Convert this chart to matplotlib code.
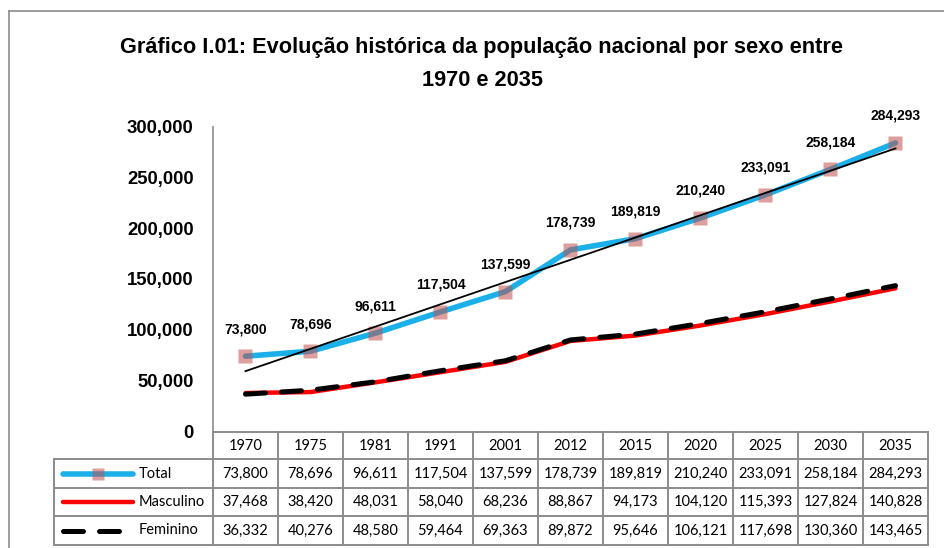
import numpy as np
import matplotlib
matplotlib.use("Agg")
import matplotlib.pyplot as plt
from matplotlib.lines import Line2D

# Dados (população nacional por sexo)
anos = ['1970', '1975', '1981', '1991', '2001', '2012', '2015', '2020', '2025', '2030', '2035']
total = [73800, 78696, 96611, 117504, 137599, 178739, 189819, 210240, 233091, 258184, 284293]
masculino = [37468, 38420, 48031, 58040, 68236, 88867, 94173, 104120, 115393, 127824, 140828]
feminino = [36332, 40276, 48580, 59464, 69363, 89872, 95646, 106121, 117698, 130360, 143465]
series_nomes = ['Total', 'Masculino', 'Feminino']

titulo1 = 'Gráfico I.01: Evolução histórica da população nacional por sexo entre'
titulo2 = '1970 e 2035'

fonte_neg = 'Liberation Sans'
fonte_tab = 'Lato'

W, H = 945, 548
fig = plt.figure(figsize=(W / 100, H / 100), dpi=100)

def fx(px):
    return px / W

def fy(py):
    return 1 - py / H

# moldura exterior
fig.add_artist(Line2D([fx(9), fx(9)], [fy(11), fy(560)], color='#8c8c8c', lw=1.2))
fig.add_artist(Line2D([fx(9), fx(950)], [fy(11), fy(11)], color='#8c8c8c', lw=1.2))

fig.text(fx(482), fy(48), titulo1, ha='center', va='center', fontsize=15.7,
         fontweight='bold', family=fonte_neg)
fig.text(fx(482), fy(80), titulo2, ha='center', va='center', fontsize=15.7,
         fontweight='bold', family=fonte_neg)

# eixo principal
x0, x1 = 213, 928
y_top, y_bot = 127, 431
ax = fig.add_axes([fx(x0), fy(y_bot), fx(x1) - fx(x0), fy(y_top) - fy(y_bot)])
x = np.arange(len(anos))
ax.set_xlim(-0.5, len(anos) - 0.5)
ax.set_ylim(0, 300000)
for s in ['top', 'right', 'bottom']:
    ax.spines[s].set_visible(False)
ax.spines['left'].set_color('#8c8c8c')
ax.spines['left'].set_linewidth(1.2)
ax.set_xticks([])
ax.set_yticks(np.arange(0, 300001, 50000))
ax.set_yticklabels([f'{v:,}' for v in np.arange(0, 300001, 50000)])
ax.tick_params(axis='y', length=0, pad=14)
for lb in ax.get_yticklabels():
    lb.set_fontweight('bold')
    lb.set_family(fonte_neg)
    lb.set_fontsize(13.3)
ax.patch.set_visible(False)

cor_total = '#1cb0ea'
cor_marc = '#c0504d'
ax.plot(x, masculino, color='#ff0000', lw=3.2, solid_capstyle='round', zorder=2)
ax.plot(x, feminino, color='black', lw=3.6, dashes=(4, 3.2), dash_capstyle='round', zorder=3)
ax.plot(x, total, color=cor_total, lw=4, solid_capstyle='round', zorder=2)
ax.plot(x, total, ls='none', marker='s', ms=10.5, mfc=cor_marc, mec='none', alpha=0.55, zorder=4)

# linha de tendência linear
a, b = np.polyfit(x, total, 1)
ax.plot(x, a * x + b, color='black', lw=1.3, zorder=5)

for xi, v in zip(x, total):
    ax.annotate(f'{v:,}', (xi, v), xytext=(0, 19.5), textcoords='offset points',
                ha='center', va='center', fontsize=10,
                fontweight='bold', family=fonte_neg, annotation_clip=False)

# tabela de dados
lx0 = 54
unid = (x1 - x0) / len(anos)
tab_y = [432, 459, 488, 516, 545]
tax = fig.add_axes([fx(lx0), fy(tab_y[-1]), fx(x1) - fx(lx0), fy(tab_y[0]) - fy(tab_y[-1])])
tax.set_xlim(-0.5 - (x0 - lx0) / unid, len(anos) - 0.5)
tax.set_ylim(tab_y[-1], tab_y[0])
tax.axis('off')
cinza = '#8c8c8c'
lwt = 1.4
xl = -0.5 - (x0 - lx0) / unid
# linhas horizontais
tax.plot([-0.5, len(anos) - 0.5], [tab_y[0], tab_y[0]], color=cinza, lw=lwt, clip_on=False)
for yy in tab_y[1:]:
    tax.plot([xl, len(anos) - 0.5], [yy, yy], color=cinza, lw=lwt, clip_on=False)
# linhas verticais
tax.plot([xl, xl], [tab_y[1], tab_y[-1]], color=cinza, lw=lwt, clip_on=False)
for k in range(len(anos) + 1):
    tax.plot([k - 0.5, k - 0.5], [tab_y[0], tab_y[-1]], color=cinza, lw=lwt, clip_on=False)

for k, ano in enumerate(anos):
    tax.text(k, (tab_y[0] + tab_y[1]) / 2, ano, ha='center', va='center', fontsize=10.5, family=fonte_tab)
for r, vals in enumerate([total, masculino, feminino]):
    yc = (tab_y[r + 1] + tab_y[r + 2]) / 2
    for k, v in enumerate(vals):
        tax.text(k, yc, f'{v:,}', ha='center', va='center', fontsize=10.5, family=fonte_tab)
    tax.text(xl + 85 / unid, yc, series_nomes[r], ha='left', va='center', fontsize=10.5, family=fonte_tab)

# símbolos da legenda
ls0, ls1 = xl + 9 / unid, xl + 79 / unid
yc = (tab_y[1] + tab_y[2]) / 2
tax.plot([ls0, ls1], [yc, yc], color=cor_total, lw=4, solid_capstyle='round')
tax.plot([(ls0 + ls1) / 2], [yc], marker='s', ms=8.5, mfc=cor_marc, mec='none', alpha=0.55)
yc = (tab_y[2] + tab_y[3]) / 2
tax.plot([ls0, ls1], [yc, yc], color='#ff0000', lw=3.2, solid_capstyle='round')
yc = (tab_y[3] + tab_y[4]) / 2
tax.plot([ls0, ls1], [yc, yc], color='black', lw=3.6, dashes=(4, 3.2), dash_capstyle='round')

fig.savefig('out.png', dpi=100)
